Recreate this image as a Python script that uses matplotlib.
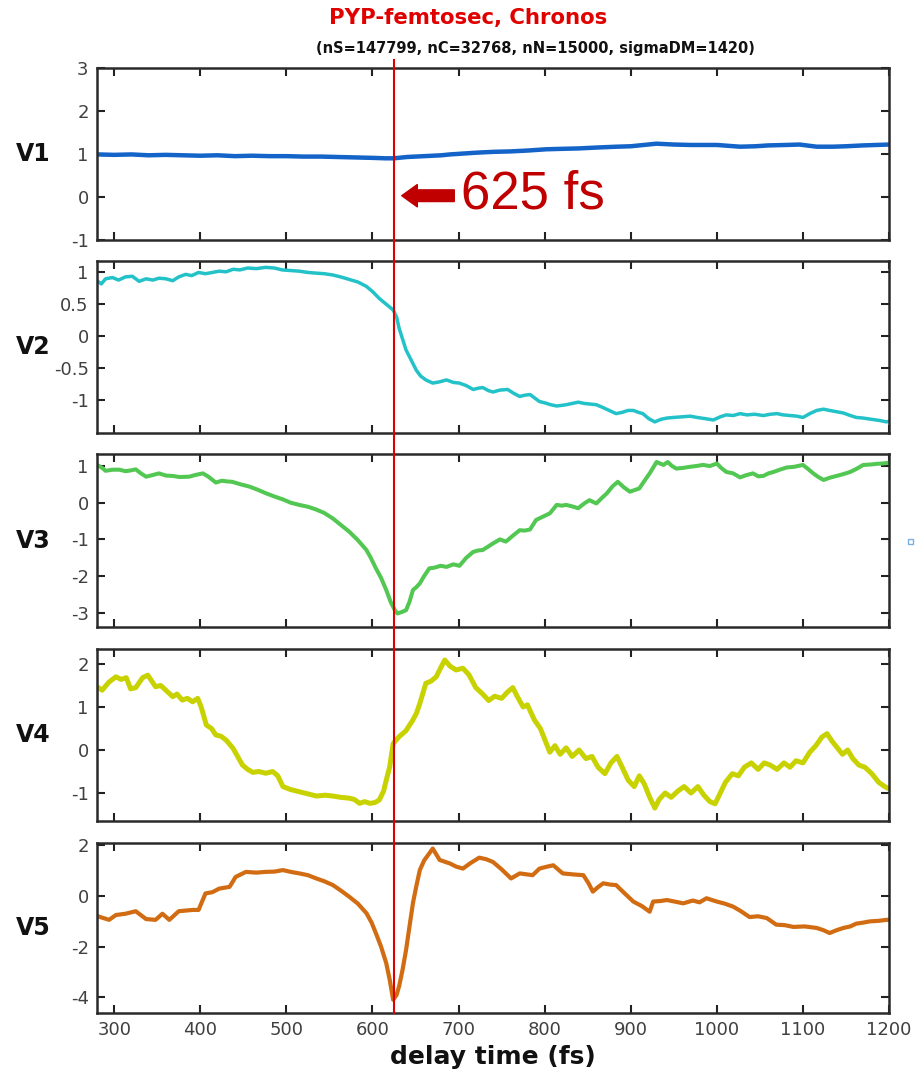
import matplotlib
matplotlib.use("Agg")
import matplotlib.pyplot as plt
from matplotlib.transforms import blended_transform_factory
from matplotlib.lines import Line2D
from matplotlib.patches import Rectangle

plt.rcParams["font.family"] = ["DejaVu Sans"]
plt.rcParams["axes.unicode_minus"] = False

# ---- data: delay time (fs) and the five chronos components ----
v1_t = [280, 300, 320, 340, 360, 380, 400, 420, 440, 460, 480, 500, 520, 540, 560,
        580, 600, 615, 625, 640, 660, 680, 690, 705, 720, 740, 760, 780, 802, 820,
        840, 860, 884, 900, 915, 930, 950, 970, 1000, 1027, 1045, 1060, 1080, 1096,
        1116, 1135, 1150, 1170, 1185, 1200]
v1 = [0.99, 0.98, 0.99, 0.97, 0.98, 0.97, 0.96, 0.97, 0.95, 0.96, 0.95, 0.95, 0.94,
      0.94, 0.93, 0.92, 0.91, 0.90, 0.90, 0.93, 0.95, 0.97, 0.99, 1.01, 1.03, 1.05,
      1.06, 1.08, 1.11, 1.12, 1.13, 1.15, 1.17, 1.18, 1.21, 1.24, 1.22, 1.21, 1.21,
      1.17, 1.18, 1.20, 1.21, 1.22, 1.17, 1.17, 1.18, 1.20, 1.21, 1.22]

v2_t = [280, 285, 290, 298, 305, 313, 321, 329, 337, 345, 352, 360, 368, 375, 383,
        390, 398, 406, 414, 422, 430, 438, 446, 455, 465, 476, 486, 495, 505, 515,
        525, 534, 544, 554, 563, 573, 583, 593, 600, 608, 616, 624, 628, 631, 635,
        639, 645, 651, 656, 662, 670, 678, 686, 694, 701, 709, 717, 723, 728, 735,
        740, 748, 757, 764, 771, 777, 783, 789, 794, 800, 807, 814, 820, 825, 832,
        839, 846, 853, 860, 867, 875, 883, 890, 897, 903, 909, 914, 921, 928, 935,
        942, 950, 960, 969, 977, 987, 996, 1004, 1011, 1019, 1027, 1035, 1044, 1054,
        1062, 1070, 1077, 1085, 1093, 1100, 1108, 1116, 1124, 1131, 1139, 1147, 1155,
        1162, 1170, 1180, 1190, 1197, 1200]
v2 = [0.87, 0.82, 0.90, 0.92, 0.88, 0.93, 0.94, 0.86, 0.90, 0.88, 0.91, 0.90, 0.87,
      0.93, 0.97, 0.95, 1.00, 0.98, 1.00, 1.02, 1.01, 1.05, 1.04, 1.07, 1.06, 1.08,
      1.07, 1.04, 1.03, 1.02, 1.00, 0.99, 0.98, 0.96, 0.93, 0.89, 0.85, 0.78, 0.70,
      0.59, 0.50, 0.41, 0.30, 0.12, -0.05, -0.22, -0.38, -0.54, -0.63, -0.69, -0.74,
      -0.72, -0.69, -0.73, -0.74, -0.78, -0.84, -0.82, -0.81, -0.86, -0.88, -0.85,
      -0.84, -0.90, -0.95, -0.93, -0.92, -0.98, -1.03, -1.05, -1.08, -1.10, -1.09,
      -1.08, -1.06, -1.04, -1.06, -1.07, -1.08, -1.12, -1.17, -1.22, -1.20, -1.17,
      -1.17, -1.20, -1.22, -1.30, -1.35, -1.31, -1.29, -1.28, -1.27, -1.26, -1.28,
      -1.30, -1.32, -1.27, -1.24, -1.25, -1.22, -1.24, -1.23, -1.25, -1.23, -1.22,
      -1.24, -1.25, -1.26, -1.28, -1.22, -1.17, -1.15, -1.17, -1.19, -1.21, -1.25,
      -1.28, -1.29, -1.31, -1.33, -1.35, -1.34]

v3_t = [280, 286, 290, 298, 306, 313, 319, 325, 331, 337, 344, 352, 360, 368, 376,
        387, 395, 403, 410, 418, 425, 431, 437, 447, 457, 466, 476, 486, 496, 505,
        515, 525, 534, 544, 554, 563, 573, 583, 593, 598, 604, 610, 616, 621, 626,
        629, 634, 639, 643, 647, 651, 655, 660, 666, 672, 679, 686, 694, 701, 709,
        717, 723, 728, 734, 740, 748, 755, 763, 771, 777, 783, 790, 798, 806, 814,
        820, 825, 832, 839, 846, 852, 860, 866, 872, 879, 885, 892, 899, 905, 910,
        916, 922, 930, 938, 943, 948, 953, 961, 969, 976, 984, 992, 1000, 1005, 1011,
        1019, 1027, 1034, 1042, 1048, 1054, 1060, 1066, 1073, 1081, 1090, 1100, 1106,
        1112, 1118, 1124, 1131, 1139, 1147, 1155, 1162, 1170, 1178, 1186, 1193, 1200]
v3 = [1.03, 0.95, 0.87, 0.90, 0.90, 0.86, 0.88, 0.91, 0.80, 0.71, 0.75, 0.80, 0.74,
      0.73, 0.70, 0.71, 0.76, 0.80, 0.70, 0.55, 0.60, 0.58, 0.57, 0.50, 0.44, 0.36,
      0.26, 0.17, 0.09, 0.00, -0.06, -0.11, -0.18, -0.28, -0.43, -0.60, -0.79, -1.02,
      -1.29, -1.50, -1.79, -2.05, -2.38, -2.70, -2.93, -3.02, -2.98, -2.93, -2.70,
      -2.38, -2.30, -2.20, -2.00, -1.79, -1.77, -1.72, -1.75, -1.68, -1.72, -1.50,
      -1.34, -1.30, -1.29, -1.20, -1.11, -1.00, -1.06, -0.90, -0.75, -0.76, -0.73,
      -0.47, -0.38, -0.29, -0.06, -0.08, -0.06, -0.10, -0.15, -0.02, 0.07, -0.02,
      0.12, 0.25, 0.45, 0.57, 0.42, 0.30, 0.35, 0.39, 0.60, 0.80, 1.11, 1.03, 1.11,
      1.00, 0.93, 0.95, 0.98, 1.00, 1.03, 1.00, 1.07, 0.95, 0.84, 0.80, 0.69, 0.75,
      0.80, 0.72, 0.73, 0.80, 0.84, 0.90, 0.96, 0.98, 1.03, 0.92, 0.80, 0.70, 0.62,
      0.68, 0.73, 0.78, 0.84, 0.92, 1.03, 1.04, 1.06, 1.07, 1.09]

v4_t = [280, 286, 294, 302, 308, 314, 319, 325, 333, 339, 348, 354, 360, 368, 373,
        379, 385, 391, 397, 401, 407, 413, 418, 424, 430, 438, 449, 455, 461, 468,
        476, 484, 490, 496, 505, 515, 525, 535, 545, 554, 563, 573, 579, 585, 591,
        597, 603, 608, 613, 616, 620, 624, 631, 639, 647, 651, 655, 662, 668, 674,
        679, 684, 690, 697, 705, 712, 720, 728, 735, 742, 750, 757, 763, 768, 775,
        780, 788, 795, 800, 806, 812, 818, 825, 832, 840, 848, 855, 862, 870, 877,
        884, 890, 897, 904, 910, 916, 922, 928, 933, 940, 947, 955, 962, 970, 978,
        985, 992, 998, 1004, 1010, 1018, 1025, 1032, 1040, 1048, 1055, 1062, 1070,
        1078, 1085, 1092, 1100, 1108, 1115, 1122, 1128, 1134, 1140, 1146, 1152, 1158,
        1165, 1172, 1180, 1188, 1195, 1200]
v4 = [1.47, 1.39, 1.58, 1.70, 1.64, 1.68, 1.42, 1.45, 1.68, 1.74, 1.47, 1.50, 1.39,
      1.24, 1.30, 1.16, 1.20, 1.12, 1.20, 1.00, 0.58, 0.50, 0.35, 0.32, 0.23, 0.04,
      -0.35, -0.45, -0.52, -0.50, -0.54, -0.50, -0.60, -0.85, -0.92, -0.97, -1.02,
      -1.07, -1.05, -1.07, -1.10, -1.12, -1.15, -1.24, -1.20, -1.24, -1.22, -1.16,
      -0.95, -0.70, -0.39, 0.15, 0.31, 0.45, 0.70, 0.85, 1.08, 1.55, 1.60, 1.70,
      1.90, 2.09, 1.95, 1.86, 1.90, 1.75, 1.45, 1.30, 1.15, 1.25, 1.20, 1.35, 1.45,
      1.25, 1.00, 1.05, 0.70, 0.50, 0.25, -0.05, 0.10, -0.10, 0.05, -0.15, 0.00,
      -0.20, -0.15, -0.40, -0.55, -0.30, -0.15, -0.40, -0.70, -0.85, -0.60, -0.80,
      -1.10, -1.35, -1.15, -1.00, -1.10, -0.95, -0.85, -1.00, -0.85, -1.05, -1.20,
      -1.25, -1.00, -0.75, -0.55, -0.60, -0.40, -0.30, -0.45, -0.30, -0.35, -0.45,
      -0.30, -0.40, -0.25, -0.30, -0.05, 0.10, 0.30, 0.38, 0.20, 0.05, -0.10, 0.00,
      -0.20, -0.35, -0.40, -0.55, -0.75, -0.85, -0.90]

v5_t = [280, 294, 302, 313, 325, 337, 348, 356, 364, 375, 391, 398, 406, 414, 422,
        434, 441, 453, 465, 476, 486, 496, 505, 515, 525, 534, 544, 554, 563, 573,
        583, 593, 599, 604, 610, 616, 620, 624, 628, 631, 635, 639, 643, 647, 651,
        655, 660, 666, 670, 678, 684, 690, 697, 705, 714, 724, 732, 740, 750, 761,
        771, 786, 794, 802, 810, 821, 833, 845, 851, 856, 862, 868, 876, 883, 893,
        903, 913, 922, 926, 934, 942, 951, 961, 972, 980, 988, 1000, 1009, 1019,
        1028, 1038, 1048, 1058, 1069, 1079, 1089, 1102, 1116, 1124, 1131, 1139, 1147,
        1155, 1162, 1170, 1178, 1188, 1197, 1200]
v5 = [-0.79, -0.94, -0.75, -0.70, -0.60, -0.91, -0.94, -0.70, -0.94, -0.60, -0.55,
      -0.55, 0.10, 0.15, 0.29, 0.36, 0.75, 0.95, 0.92, 0.95, 0.96, 1.02, 0.95, 0.89,
      0.82, 0.70, 0.58, 0.43, 0.22, -0.03, -0.30, -0.68, -1.05, -1.47, -2.00, -2.65,
      -3.30, -4.09, -3.90, -3.55, -2.90, -2.13, -1.20, -0.28, 0.40, 1.02, 1.40, 1.68,
      1.87, 1.42, 1.35, 1.28, 1.16, 1.08, 1.30, 1.51, 1.45, 1.34, 1.05, 0.69, 0.89,
      0.82, 1.08, 1.15, 1.21, 0.89, 0.85, 0.82, 0.50, 0.17, 0.35, 0.50, 0.45, 0.43,
      0.10, -0.22, -0.40, -0.62, -0.22, -0.20, -0.16, -0.22, -0.29, -0.18, -0.25,
      -0.09, -0.22, -0.30, -0.42, -0.60, -0.83, -0.80, -0.87, -1.13, -1.15, -1.22,
      -1.20, -1.26, -1.35, -1.46, -1.35, -1.26, -1.20, -1.09, -1.05, -1.00, -0.98,
      -0.94, -0.94]

series_t = [v1_t, v2_t, v3_t, v4_t, v5_t]
series_v = [v1, v2, v3, v4, v5]
labels = ["V1", "V2", "V3", "V4", "V5"]
colors = ["#1463c8", "#22c2c8", "#52c752", "#c8d200", "#d26c12"]
widths = [3.2, 2.5, 2.9, 3.6, 3.0]
ylims = [(-1, 3), (-1.52, 1.18), (-3.38, 1.32), (-1.65, 2.34), (-4.6, 2.1)]
yticks = [[-1, 0, 1, 2, 3], [-1, -0.5, 0, 0.5, 1], [-3, -2, -1, 0, 1],
          [-1, 0, 1, 2], [-4, -2, 0, 2]]
ytick_labels = [["-1", "0", "1", "2", "3"], ["-1", "-0.5", "0", "0.5", "1"],
                ["-3", "-2", "-1", "0", "1"], ["-1", "0", "1", "2"],
                ["-4", "-2", "0", "2"]]
xticks = [300, 400, 500, 600, 700, 800, 900, 1000, 1100, 1200]
marker_time = 625

W, H = 916, 1075
fig = plt.figure(figsize=(W / 100, H / 100), dpi=100)

# panel frames in pixel rows (top, bottom)
rows = [(68, 240), (261, 432.7), (454.3, 626.7), (649.3, 821), (842.7, 1012.7)]
x0, x1 = 97, 889

axes = []
for i, (top, bot) in enumerate(rows):
    ax = fig.add_axes([x0 / W, 1 - bot / H, (x1 - x0) / W, (bot - top) / H])
    ax.plot(series_t[i], series_v[i], color=colors[i], lw=widths[i],
            solid_joinstyle="round", solid_capstyle="round")
    ax.set_xlim(280, 1200)
    ax.set_ylim(*ylims[i])
    ax.set_xticks(xticks)
    ax.set_yticks(yticks[i])
    ax.set_yticklabels(ytick_labels[i])
    ax.tick_params(direction="in", top=True, right=True, length=6, width=1.5,
                   labelsize=13, labelcolor="#404040", color="#222222", pad=6)
    for sp in ax.spines.values():
        sp.set_color("#2a2a2a")
        sp.set_linewidth(1.8)
    if i < 4:
        ax.tick_params(labelbottom=False)
    ax.set_ylabel(labels[i], rotation=0, fontsize=17, fontweight="bold",
                  color="#111111", ha="center", va="center")
    ax.yaxis.set_label_coords(-0.081, 0.5)
    axes.append(ax)

ax5 = axes[-1]
ax5.set_xlabel("delay time (fs)", fontsize=18, fontweight="bold", color="#111111",
               va="center")
ax5.xaxis.set_label_coords(0.5, -0.26)

# titles
fig.text(468 / W, 1 - 18 / H, "PYP-femtosec, Chronos", ha="center", va="center",
         fontsize=15.3, fontweight="bold", color="#e00000")
fig.text(535 / W, 1 - 48 / H, "(nS=147799, nC=32768, nN=15000, sigmaDM=1420)",
         ha="center", va="center", fontsize=10.5, fontweight="bold", color="#111111")

# vertical marker across all panels
trans = blended_transform_factory(ax5.transData, fig.transFigure)
fig.add_artist(Line2D([marker_time, marker_time], [1 - 1013 / H, 1 - 60 / H],
                      transform=trans, color="#dd0000", lw=1.5, zorder=5))

# arrow and label for the marker
ax1 = axes[0]
ax1.annotate("", xy=(634, 0.03), xytext=(695, 0.03),
             arrowprops=dict(arrowstyle="simple,head_length=0.8,head_width=1.15,tail_width=0.6",
                             mutation_scale=14, color="#c00000", shrinkA=0, shrinkB=0))
ax1.text(703, 0.06, "625 fs", fontsize=38, color="#c00000", family="Liberation Sans",
         ha="left", va="center")

# small legend box stub at the right edge
fig.add_artist(Rectangle((908 / W, 1 - 544 / H), 5 / W, 5 / H, transform=fig.transFigure,
                         fill=False, edgecolor="#7ab0e0", lw=1))

fig.savefig("out.png", dpi=100)
